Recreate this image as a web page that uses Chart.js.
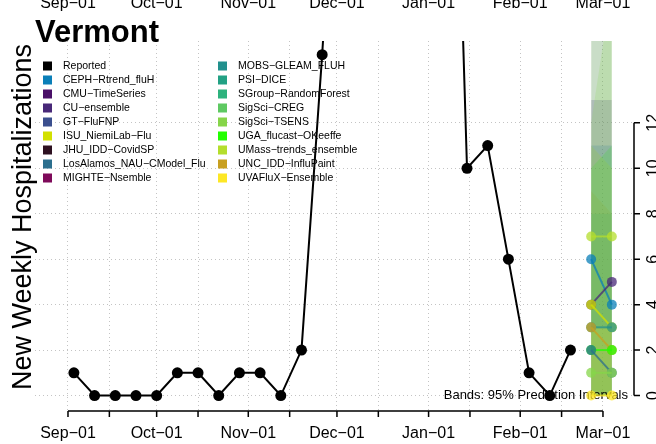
<!DOCTYPE html>
<html>
<head>
<meta charset="utf-8">
<script src="https://cdn.jsdelivr.net/npm/chart.js@4.4.0/dist/chart.umd.min.js"></script>
<style>
html, body { margin: 0; padding: 0; background: #fff; }
canvas { display: block; }
</style>
</head>
<body>
<canvas id="chart" width="656" height="444"></canvas>
<script>
var startDate = '2022-09-01';
var tickDates = ['2022-09-01', '2022-09-15', '2022-10-01', '2022-10-15', '2022-11-01', '2022-11-15', '2022-12-01',
    '2022-12-15', '2023-01-01', '2023-01-15', '2023-02-01', '2023-02-15', '2023-03-01'];
var tickLabels = ['Sep\u221201', '', 'Oct\u221201', '', 'Nov\u221201', '', 'Dec\u221201', '', 'Jan\u221201', '', 'Feb\u221201', '', 'Mar\u221201'];
var yTicks = [0, 2, 4, 6, 8, 10, 12];

var reportedDates = ['2022-09-03', '2022-09-10', '2022-09-17', '2022-09-24', '2022-10-01', '2022-10-08', '2022-10-15',
    '2022-10-22', '2022-10-29', '2022-11-05', '2022-11-12', '2022-11-19', '2022-11-26', '2022-12-03', '2022-12-10',
    '2022-12-17', '2022-12-24', '2022-12-31', '2023-01-07', '2023-01-14', '2023-01-21', '2023-01-28', '2023-02-04',
    '2023-02-11', '2023-02-18'];
var reportedValues = [1, 0, 0, 0, 0, 1, 1, 0, 1, 1, 0, 2, 15, 30, 45, 52, 58, 50, 40, 10, 11, 6, 1, 0, 2];

var legendNames = ['Reported', 'CEPH\u2212Rtrend_fluH', 'CMU\u2212TimeSeries', 'CU\u2212ensemble', 'GT\u2212FluFNP',
    'ISU_NiemiLab\u2212Flu', 'JHU_IDD\u2212CovidSP', 'LosAlamos_NAU\u2212CModel_Flu', 'MIGHTE\u2212Nsemble',
    'MOBS\u2212GLEAM_FLUH', 'PSI\u2212DICE', 'SGroup\u2212RandomForest', 'SigSci\u2212CREG', 'SigSci\u2212TSENS',
    'UGA_flucast\u2212OKeeffe', 'UMass\u2212trends_ensemble', 'UNC_IDD\u2212InfluPaint', 'UVAFluX\u2212Ensemble'];
var legendColors = ['#000000', '#0a7fb8', '#4a1068', '#482878', '#3b4f8e', '#d2e000', '#2d1020', '#2c6f8e', '#7e0a5a',
    '#21908d', '#22a184', '#2db27d', '#5ec962', '#86d549', '#22ff00', '#b4de2c', '#c8a020', '#fde725'];

// forecasts for 2023-02-25 and 2023-03-04
var forecastDates = ['2023-02-25', '2023-03-04'];
var forecastModels = ['UVAFluX', 'SigSci-TSENS', 'LosAlamos', 'UGA', 'UNC', 'MOBS', 'ISU', 'CU', 'CEPH', 'UMass'];
var forecastColors = ['#fde725', '#86d549', '#2c6f8e', '#22ff00', '#c8a020', '#21908d', '#d2e000', '#482878', '#0a7fb8', '#b4de2c'];
var forecastMedian = [[0, 0], [1, 1], [2, 1], [2, 2], [3, 2], [3, 3], [4, 3], [4, 5], [6, 4], [7, 7]];
var forecastLower = [[0, 0], [0, 0], [0, 0], [0, 0], [0, 0], [0, 0], [0, 0], [0, 0], [0, 0], [0, 0]];
var forecastUpper = [[3, 3], [12, 18], [22, 22], [10, 11], [9, 8], [8, 8], [11, 10], [13, 13], [11, 11], [22, 22]];

function dayNum(s) {
    return (Date.parse(s) - Date.parse(startDate)) / 864e5;
}

function hexToRgba(hex, a) {
    var n = parseInt(hex.slice(1), 16);
    return 'rgba(' + (n >> 16 & 255) + ',' + (n >> 8 & 255) + ',' + (n & 255) + ',' + a + ')';
}

var datasets = [];

datasets.push({
    label: 'Reported',
    data: reportedDates.map(function (d, i) { return { x: dayNum(d), y: reportedValues[i] }; }),
    borderColor: '#000',
    backgroundColor: '#000',
    borderWidth: 2,
    pointRadius: 5.5,
    pointBorderWidth: 0,
    tension: 0,
    clip: 0
});

for (var m = 0; m < forecastModels.length; m++) {
    datasets.push({
        label: forecastModels[m],
        data: forecastDates.map(function (d, i) { return { x: dayNum(d), y: forecastMedian[m][i] }; }),
        borderColor: hexToRgba(forecastColors[m], 0.75),
        backgroundColor: hexToRgba(forecastColors[m], 0.75),
        borderWidth: 2,
        pointRadius: 5,
        pointBorderWidth: 0,
        clip: 0
    });
}

// prediction bands: lower line then upper line filled to it
for (var b = 0; b < forecastModels.length; b++) {
    var lowIdx = datasets.length;
    datasets.push({
        label: forecastModels[b] + ' lo',
        data: forecastDates.map(function (d, i) { return { x: dayNum(d), y: forecastLower[b][i] }; }),
        borderWidth: 0,
        pointRadius: 0,
        fill: false
    });
    datasets.push({
        label: forecastModels[b] + ' hi',
        data: forecastDates.map(function (d, i) { return { x: dayNum(d), y: forecastUpper[b][i] }; }),
        borderWidth: 0,
        pointRadius: 0,
        backgroundColor: hexToRgba(forecastColors[b], 0.2),
        fill: lowIdx
    });
}

var FONT = '"Liberation Sans", Arial, Helvetica, sans-serif';

var decorations = {
    id: 'decorations',
    beforeDatasetsDraw: function (chart) {
        var ctx = chart.ctx;
        ctx.save();
        // legend, two columns
        ctx.font = '10.5px ' + FONT;
        ctx.textBaseline = 'middle';
        ctx.textAlign = 'left';
        for (var i = 0; i < legendNames.length; i++) {
            var col = i < 9 ? 0 : 1;
            var row = i % 9;
            var x = col == 0 ? 43 : 218;
            var y = 66 + row * 14;
            ctx.fillStyle = legendColors[i];
            ctx.fillRect(x, y - 4.5, 9, 9);
            ctx.fillStyle = '#000';
            ctx.fillText(legendNames[i], x + 20, y + 0.5);
        }
        ctx.font = '13px ' + FONT;
        ctx.textAlign = 'right';
        ctx.textBaseline = 'alphabetic';
        ctx.fillText('Bands: 95% Prediction Intervals', 628, 399);
        ctx.restore();
    },
    afterDraw: function (chart) {
        var ctx = chart.ctx;
        var area = chart.chartArea;
        var xs = chart.scales.x;
        var ys = chart.scales.y;
        ctx.save();
        ctx.strokeStyle = '#000';
        ctx.fillStyle = '#000';
        ctx.lineWidth = 1.5;

        // bottom axis
        var axY = area.bottom;
        var x0 = xs.getPixelForValue(dayNum(tickDates[0]));
        var x1 = xs.getPixelForValue(dayNum(tickDates[tickDates.length - 1]));
        ctx.beginPath();
        ctx.moveTo(x0, axY);
        ctx.lineTo(x1, axY);
        for (var i = 0; i < tickDates.length; i++) {
            var px = xs.getPixelForValue(dayNum(tickDates[i]));
            ctx.moveTo(px, axY);
            ctx.lineTo(px, axY + 6);
        }
        ctx.stroke();

        ctx.font = '16px ' + FONT;
        ctx.textAlign = 'center';
        ctx.textBaseline = 'alphabetic';
        for (var j = 0; j < tickDates.length; j++) {
            if (!tickLabels[j]) continue;
            var lx = xs.getPixelForValue(dayNum(tickDates[j]));
            ctx.fillText(tickLabels[j], lx, 438);
            ctx.fillText(tickLabels[j], lx, 8);
        }

        // right axis
        var axX = area.right;
        ctx.beginPath();
        ctx.moveTo(axX, ys.getPixelForValue(yTicks[0]));
        ctx.lineTo(axX, ys.getPixelForValue(yTicks[yTicks.length - 1]));
        for (var k = 0; k < yTicks.length; k++) {
            var py = ys.getPixelForValue(yTicks[k]);
            ctx.moveTo(axX, py);
            ctx.lineTo(axX + 6, py);
        }
        ctx.stroke();
        for (var t = 0; t < yTicks.length; t++) {
            var ty = ys.getPixelForValue(yTicks[t]);
            ctx.save();
            ctx.translate(657.5, ty);
            ctx.rotate(-Math.PI / 2);
            ctx.textAlign = 'center';
            ctx.fillText(String(yTicks[t]), 0, 0);
            ctx.restore();
        }

        // y title
        ctx.save();
        ctx.font = '27px ' + FONT;
        ctx.translate(31, 217);
        ctx.rotate(-Math.PI / 2);
        ctx.textAlign = 'center';
        ctx.fillText('New Weekly Hospitalizations', 0, 0);
        ctx.restore();

        // title
        ctx.font = 'bold 31px ' + FONT;
        ctx.textAlign = 'left';
        ctx.fillText('Vermont', 35, 42);
        ctx.restore();
    }
};

var gridStyle = { color: '#c4c4c4', lineWidth: 1, drawTicks: false };

new Chart(document.getElementById('chart').getContext('2d'), {
    type: 'line',
    data: { datasets: datasets },
    options: {
        responsive: false,
        animation: false,
        devicePixelRatio: 1,
        layout: { padding: { left: 35, top: 41, right: 22, bottom: 33 } },
        plugins: {
            legend: { display: false },
            tooltip: { enabled: false },
            filler: { drawTime: 'beforeDatasetsDraw' }
        },
        scales: {
            x: {
                type: 'linear',
                min: -11.16,
                max: 191.5,
                ticks: { display: false },
                grid: gridStyle,
                border: { display: false, dash: [1, 3] },
                afterBuildTicks: function (axis) {
                    axis.ticks = tickDates.map(function (d) { return { value: dayNum(d) }; });
                }
            },
            y: {
                type: 'linear',
                min: -0.68,
                max: 15.6,
                ticks: { display: false },
                grid: gridStyle,
                border: { display: false, dash: [1, 3] },
                afterBuildTicks: function (axis) {
                    axis.ticks = yTicks.map(function (v) { return { value: v }; });
                }
            }
        }
    },
    plugins: [decorations]
});
</script>
</body>
</html>
